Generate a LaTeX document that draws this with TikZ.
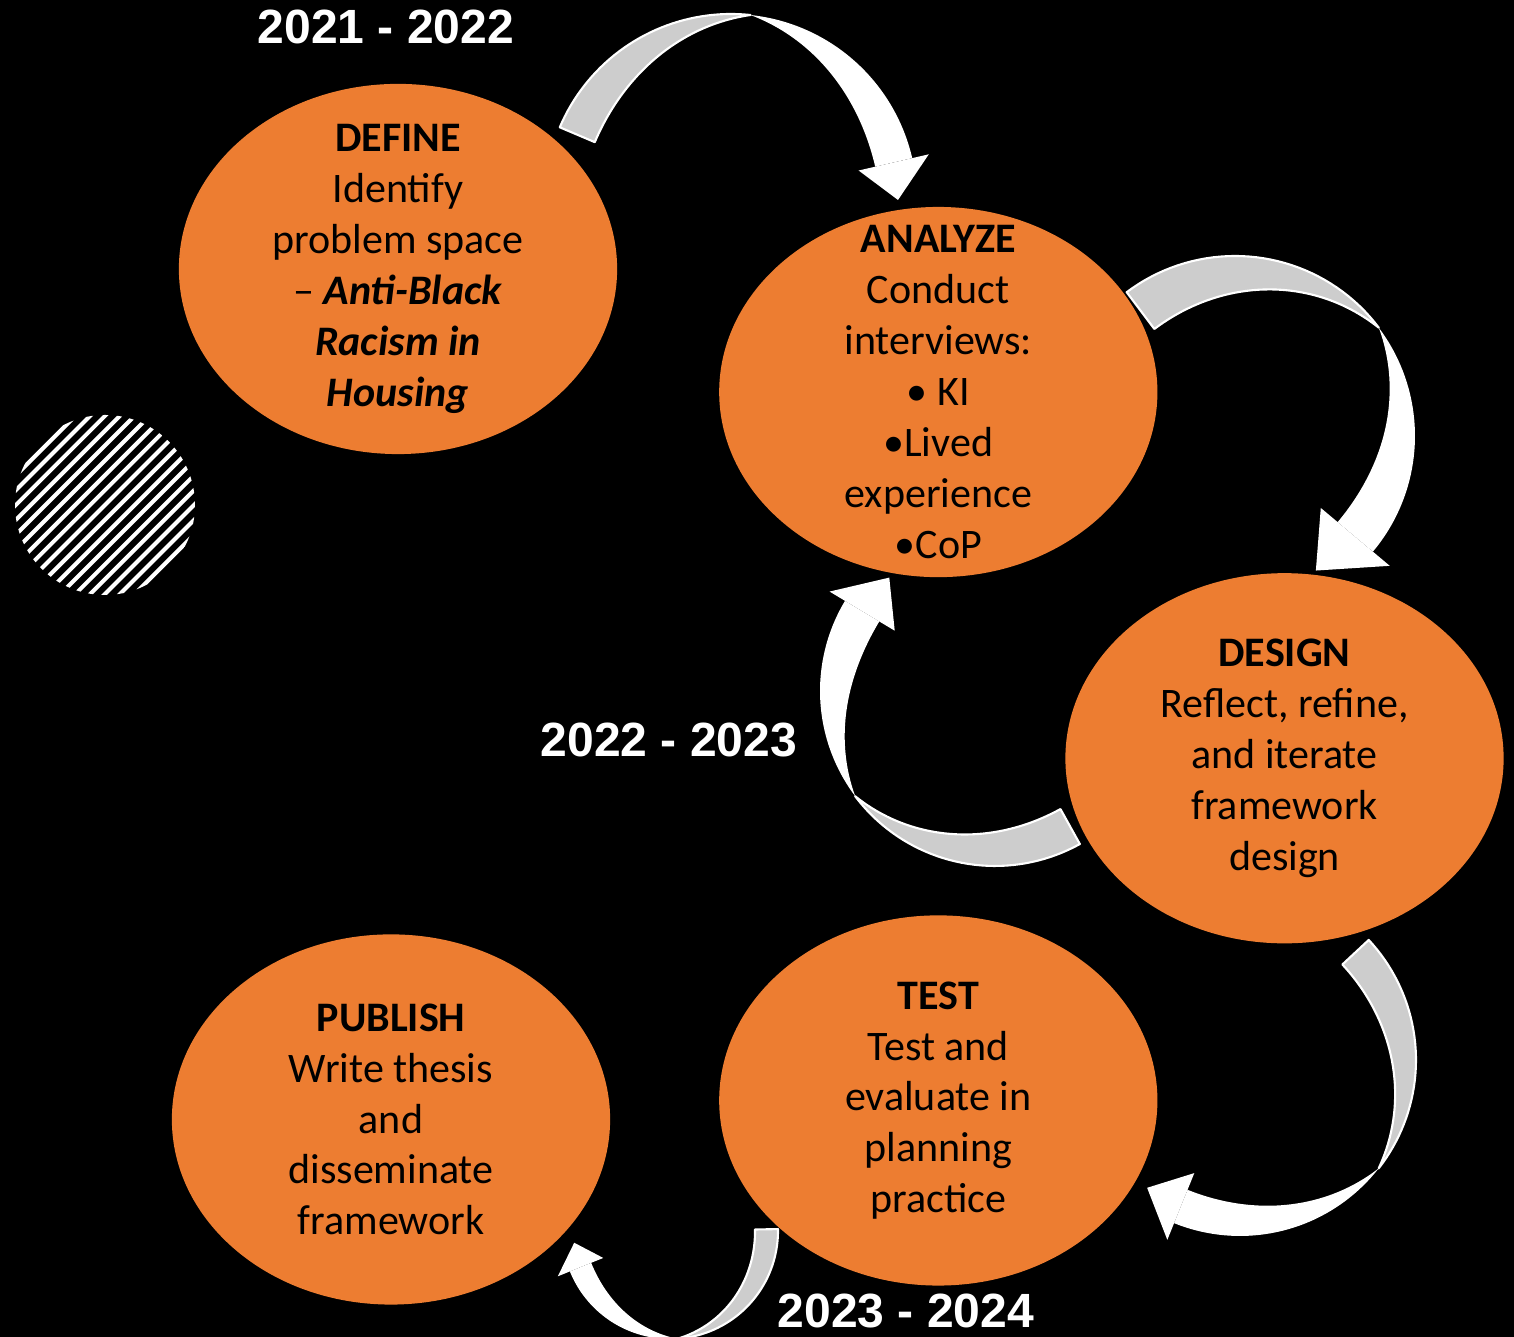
\documentclass[tikz,border=0pt]{standalone}
\usepackage{fontspec}
\setmainfont{Carlito}
\newfontfamily\yearfont{Liberation Sans}
\usetikzlibrary{shapes.geometric, positioning}

\definecolor{phaseorange}{HTML}{ED7D31}
\definecolor{backgray}{HTML}{CDCDCD}

\tikzset{
  phase/.style={ellipse, fill=phaseorange, minimum width=4.38cm, minimum height=3.70cm,
    inner xsep=-30pt, inner ysep=-25pt, align=center, text=black,
    font=\fontsize{11.95}{14.46}\selectfont},
  years/.style={text=white, anchor=base, inner sep=0pt,
    font=\yearfont\bfseries\fontsize{13.66}{16}\selectfont},
  backband/.style={fill=backgray, draw=white, line width=0.6pt, line join=round},
  frontband/.style={fill=white},
}

% twisted ribbon arrow: center, radius, width, start, twist, end, tip, head overhang
\newcommand{\twistarrow}[8]{%
  \begin{scope}[shift={(#1)}]
    \path[backband] plot[domain=#4:#5, samples=40, variable=\t] (\t:#2)
      -- plot[domain=#5:#4, samples=40, variable=\t] (\t:{#2-#3*sin(90*((\t)-(#5))/((#4)-(#5)))}) -- cycle;
    \path[frontband] plot[domain=#5:#6, samples=40, variable=\t] (\t:#2)
      -- plot[domain=#6:#5, samples=40, variable=\t] (\t:{#2-#3*sin(90*((\t)-(#5))/((#6)-(#5)))}) -- cycle;
    \path[frontband] (#6:{#2+#8}) -- (#7:{#2-#3/2}) -- (#6:{#2-#3-#8}) -- cycle;
  \end{scope}}

\begin{document}
\begin{tikzpicture}[x=0.01cm, y=0.01cm, node distance=2cm, on grid]

    \fill[black] (0,0) rectangle (1514,1337);
    \useasboundingbox (0,0) rectangle (1514,1337);

    % hatched disc on the left
    \begin{scope}
      \clip (105,832) circle[radius=90];
      \foreach \k in {-13,...,13}
        \draw[white, line width=1.15pt] ({105+\k*14.85-200},632) -- ++(400,400);
    \end{scope}

    % phases
    \node[phase] (define) at (398,1068) {\textbf{DEFINE}\\Identify\\problem space\\– \textbf{\textit{Anti-Black}}\\\textbf{\textit{Racism in}}\\\textbf{\textit{Housing}}};
    \node[phase, below right=1.23cm and 5.40cm of define] (analyze) {\textbf{ANALYZE}\\Conduct\\interviews:\\\textbullet\ KI\\\textbullet Lived\\experience\\\textbullet CoP};
    \node[phase, below right=3.66cm and 3.46cm of analyze] (design) {\textbf{DESIGN}\\Reflect, refine,\\and iterate\\framework\\design};
    \node[phase, below left=3.42cm and 3.46cm of design] (test) {\textbf{TEST}\\Test and\\evaluate in\\planning\\practice};
    \node[phase, below left=0.19cm and 5.47cm of test] (publish) {\textbf{PUBLISH}\\Write thesis\\and\\disseminate\\framework};

    % arrow centres
    \coordinate (turn1) at (731,1137);
    \coordinate (turn2) at (1235,901);
    \coordinate (turn3) at (995,646);
    \coordinate (turn4) at (1240,277);
    \coordinate (turn5) at (670,106);

    % curved arrows between phases
    \twistarrow{turn1}{186}{38}{157}{84}{13}{0}{17}
    \twistarrow{turn2}{180}{46}{127}{37}{-40}{-59}{22}
    \twistarrow{turn3}{175}{40}{-61}{-143}{-211}{-227}{18}
    \twistarrow{turn4}{176}{36}{43}{-38}{-112}{-126}{18}
    \twistarrow{turn5}{108}{23}{1}{-86}{-158}{-173}{13}

    % years
    \node[years] (y1) at (386,1293) {2021 - 2022};
    \node[years] (y2) at (669,580) {2022 - 2023};
    \node[years] (y3) at (906,9) {2023 - 2024};
\end{tikzpicture}
\end{document}
